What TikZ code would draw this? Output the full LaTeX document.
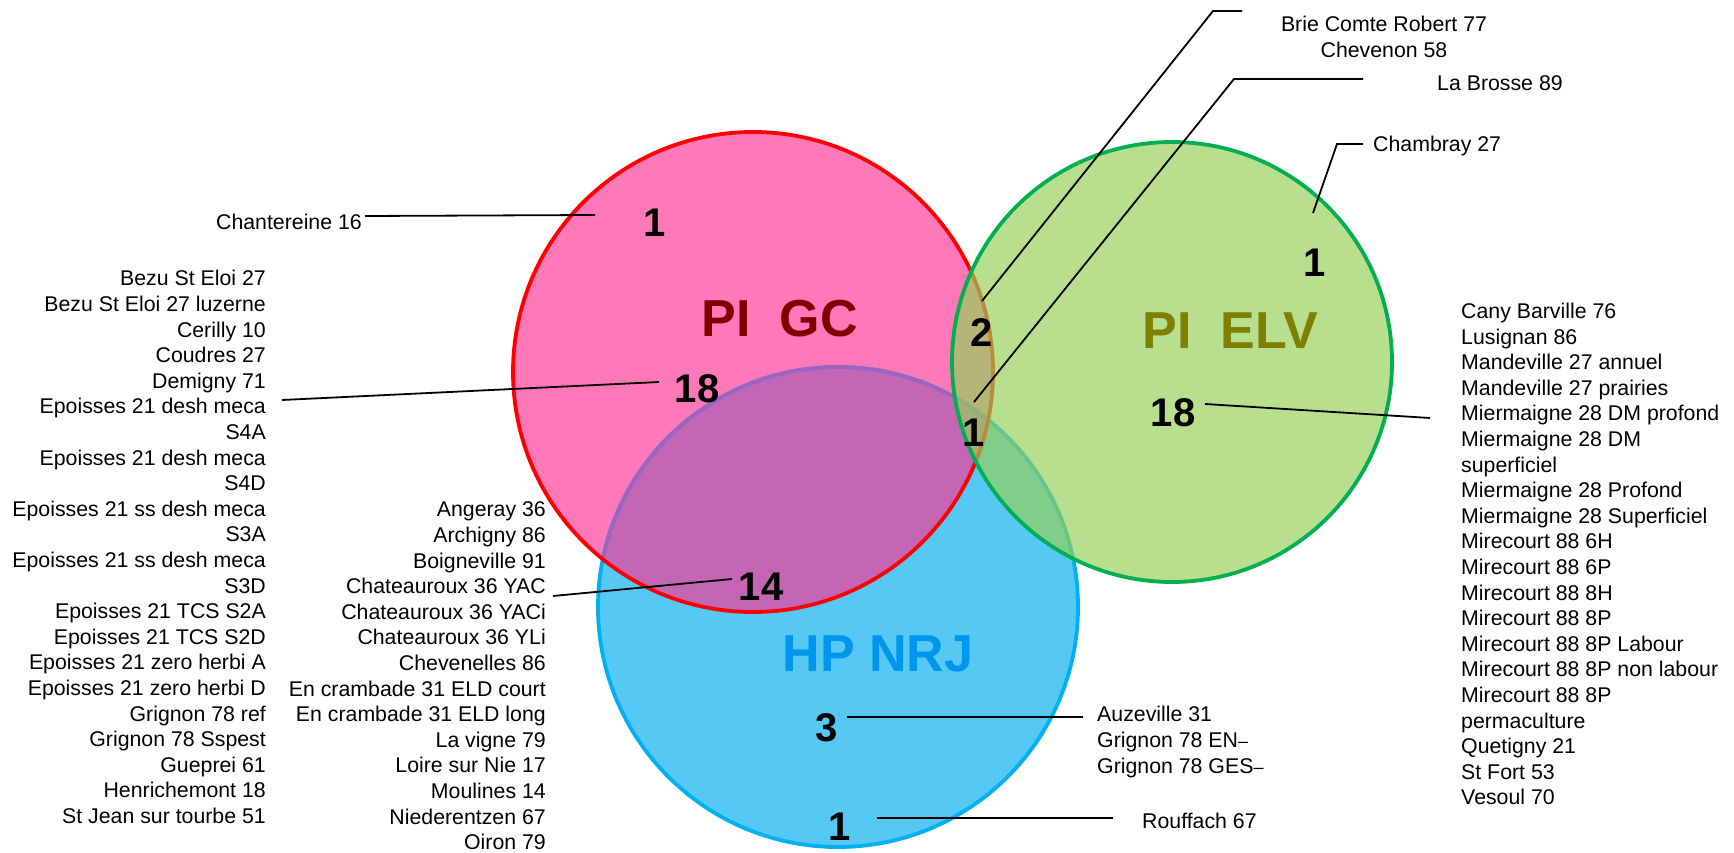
\documentclass[tikz,border=0pt]{standalone}
\usepackage{fontspec}
\setmainfont{Liberation Sans}
\definecolor{pinkF}{HTML}{FF78B8}
\definecolor{blueF}{HTML}{56C8F4}
\definecolor{purpF}{HTML}{C466B4}
\definecolor{greenF}{HTML}{96D159}
\definecolor{greenL}{HTML}{00B050}
\definecolor{blueL}{HTML}{00B0F0}
\definecolor{blueLp}{HTML}{A062BE}
\definecolor{ttlGC}{HTML}{800000}
\definecolor{ttlELV}{HTML}{808000}
\definecolor{ttlNRJ}{HTML}{0096EE}
\begin{document}
\begin{tikzpicture}[x=1pt,y=-1pt,
  lbl/.style={inner sep=0pt, font=\fontsize{21.3}{25.6}\selectfont},
  num/.style={inner sep=0pt, font=\fontsize{40}{40}\selectfont\bfseries},
  ttl/.style={inner sep=0pt, font=\fontsize{52}{52}\selectfont\bfseries},
  lead/.style={draw=black, line width=1.8pt},
  ring/.style={line width=3.8pt}]
\useasboundingbox[fill=white] (0,0) rectangle (1734,853);
% circles
\fill[pinkF] (753,372) circle[radius=240pt];
\fill[blueF] (838,607) circle[radius=240pt];
\begin{scope}
  \clip (753,372) circle[radius=240pt];
  \fill[purpF] (838,607) circle[radius=240pt];
\end{scope}
\draw[ring, blueL] (838,607) circle[radius=240pt];
\begin{scope}
  \clip (753,372) circle[radius=240pt];
  \draw[ring, blueLp] (838,607) circle[radius=240pt];
\end{scope}
\draw[ring, red] (753,372) circle[radius=240pt];
\fill[greenF, fill opacity=0.68] (1172,362) circle[radius=220pt];
\draw[ring, greenL] (1172,362) circle[radius=220pt];
% titles
\node[ttl, text=ttlGC] (tGC) at (780,319) {PI~~GC};
\node[ttl, text=ttlELV] (tELV) at (1230,331) {PI~~ELV};
\node[ttl, text=ttlNRJ] (tNRJ) at (878,654) {HP NRJ};
% numbers
\node[num] (nR1) at (655,223) {1};
\node[num] (nR18) at (697,389) {18};
\node[num] (nRB14) at (761,587) {14};
\node[num] (nRG2) at (982,333) {2};
\node[num] (nAll1) at (974,433) {1};
\node[num] (nG1) at (1315,263) {1};
\node[num] (nG18) at (1173,413) {18};
\node[num] (nB3) at (827,728) {3};
\node[num] (nB1) at (840,827) {1};
% labels
\node[lbl, anchor=east] (lChant) at (362,222) {Chantereine 16};
\node[lbl, anchor=east, align=right] (lR18) at (266,547) {Bezu St Eloi 27\\Bezu St Eloi 27 luzerne\\Cerilly 10\\Coudres 27\\Demigny 71\\Epoisses 21 desh meca\\S4A\\Epoisses 21 desh meca\\S4D\\Epoisses 21 ss desh meca\\S3A\\Epoisses 21 ss desh meca\\S3D\\Epoisses 21 TCS S2A\\Epoisses 21 TCS S2D\\Epoisses 21 zero herbi A\\Epoisses 21 zero herbi D\\Grignon 78 ref\\Grignon 78 Sspest\\Gueprei 61\\Henrichemont 18\\St Jean sur tourbe 51};
\node[lbl, anchor=east, align=right] (lRB14) at (546,676) {Angeray 36\\Archigny 86\\Boigneville 91\\Chateauroux 36 YAC\\Chateauroux 36 YACi\\Chateauroux 36 YLi\\Chevenelles 86\\En crambade 31 ELD court\\En crambade 31 ELD long\\La vigne 79\\Loire sur Nie 17\\Moulines 14\\Niederentzen 67\\Oiron 79};
\node[lbl, anchor=west, align=left] (lG18) at (1461,554) {Cany Barville 76\\Lusignan 86\\Mandeville 27 annuel\\Mandeville 27 prairies\\Miermaigne 28 DM profond\\Miermaigne 28 DM\\superficiel\\Miermaigne 28 Profond\\Miermaigne 28 Superficiel\\Mirecourt 88 6H\\Mirecourt 88 6P\\Mirecourt 88 8H\\Mirecourt 88 8P\\Mirecourt 88 8P Labour\\Mirecourt 88 8P non labour\\Mirecourt 88 8P\\permaculture\\Quetigny 21\\St Fort 53\\Vesoul 70};
\node[lbl, anchor=west, align=left] (lB3) at (1097,742) {Auzeville 31\\Grignon 78 EN{\fontsize{18}{18}\selectfont –}\\Grignon 78 GES{\fontsize{18}{18}\selectfont –}};
\node[lbl, anchor=west] (lB1) at (1142,821) {Rouffach 67};
\node[lbl, align=center] (lRG2) at (1384,37) {Brie Comte Robert 77\\Chevenon 58};
\node[lbl, anchor=west] (lAll1) at (1437,83) {La Brosse 89};
\node[lbl, anchor=west] (lG1) at (1373,146) {Chambray 27};
% leader end points
\coordinate (aChant) at (365,216); \coordinate (bChant) at (595,215);
\coordinate (aR18) at (282,400); \coordinate (bR18) at (659,382);
\coordinate (aRB14) at (553,596); \coordinate (bRB14) at (732,579);
\coordinate (aB3) at (847,717); \coordinate (bB3) at (1083,717);
\coordinate (aB1) at (877,818); \coordinate (bB1) at (1113,818);
\coordinate (aG18) at (1205,404); \coordinate (bG18) at (1430,418);
\coordinate (aG1) at (1313,213); \coordinate (kG1) at (1337,144); \coordinate (bG1) at (1363,144);
\coordinate (aRG2) at (982,301); \coordinate (kRG2) at (1213,11); \coordinate (bRG2) at (1242,11);
\coordinate (aAll1) at (974,402); \coordinate (kAll1) at (1234,79); \coordinate (bAll1) at (1363,79);
% leaders
\draw[lead] (aChant) -- (bChant);
\draw[lead] (aR18) -- (bR18);
\draw[lead] (aRB14) -- (bRB14);
\draw[lead] (aB3) -- (bB3);
\draw[lead] (aB1) -- (bB1);
\draw[lead] (aG18) -- (bG18);
\draw[lead] (aG1) -- (kG1) -- (bG1);
\draw[lead] (aRG2) -- (kRG2) -- (bRG2);
\draw[lead] (aAll1) -- (kAll1) -- (bAll1);
\end{tikzpicture}
\end{document}
